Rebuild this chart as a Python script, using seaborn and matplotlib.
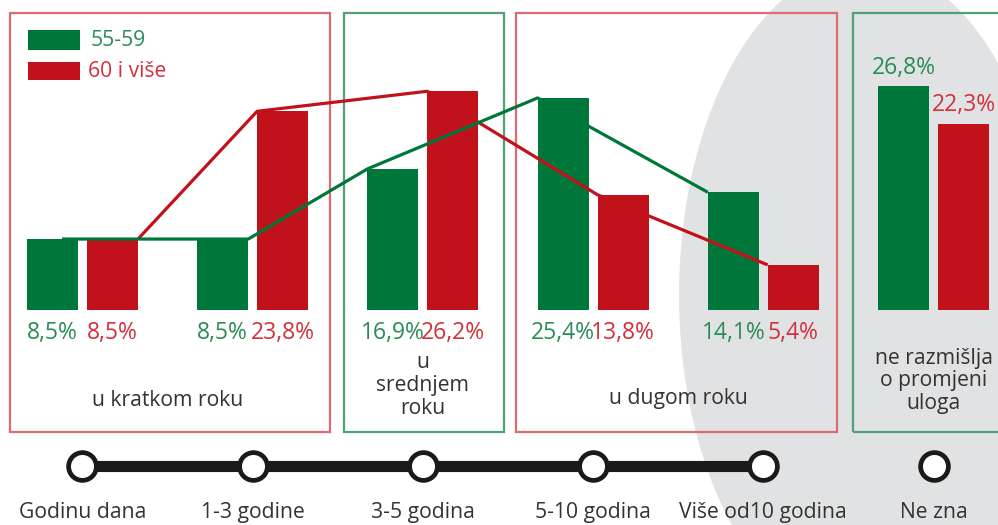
import numpy as np
import pandas as pd
import matplotlib
matplotlib.use("Agg")
import matplotlib.pyplot as plt
from matplotlib.patches import Rectangle, Ellipse
import seaborn as sns

# Podaci
periods = ["Godinu dana", "1-3 godine", "3-5 godina", "5-10 godina", "Više od10 godina", "Ne zna"]
series = ["55-59", "60 i više"]
vals_5559 = [8.5, 8.5, 16.9, 25.4, 14.1, 26.8]
vals_60 = [8.5, 23.8, 26.2, 13.8, 5.4, 22.3]
labels_5559 = ["8,5%", "8,5%", "16,9%", "25,4%", "14,1%", "26,8%"]
labels_60 = ["8,5%", "23,8%", "26,2%", "13,8%", "5,4%", "22,3%"]
box_texts = ["u kratkom roku", "u\nsrednjem\nroku", "u dugom roku", "ne razmišlja\no promjeni\nuloga"]

GREEN = "#00773a"
RED = "#c1121c"
GREEN_TXT = "#2a8c55"
RED_TXT = "#d3303c"
GREY_TXT = "#333333"

sns.set_theme(style="white")
plt.rcParams["font.family"] = ["Open Sans", "DejaVu Sans"]

df = pd.DataFrame({
    "period": periods * 2,
    "serija": [series[0]] * 6 + [series[1]] * 6,
    "vrijednost": vals_5559 + vals_60,
})

fig = plt.figure(figsize=(9.98, 5.25), dpi=100)
ax = fig.add_axes([0, 0, 1, 1])

# sivi elips u pozadini
ax.add_patch(Ellipse((4.60, 1.8), 2.19, 79.0, facecolor="#e1e2e4", edgecolor="none", zorder=0))

sns.barplot(data=df, x="period", y="vrijednost", hue="serija", order=periods,
            palette=[GREEN, RED], width=0.705, gap=0.15, legend=False,
            saturation=1, linewidth=0, edgecolor="none", ax=ax, zorder=2)

off = 0.176
half = 0.15

# linije trenda (prvih pet razdoblja)
x_idx = np.arange(5)
green_dx = np.array([-0.12, -off + half, -off - half, -off - half, -off - half])
red_dx = np.array([off + half, off - half, off - half, off - half, off - half])
ax.plot(x_idx + red_dx, vals_60[:5], color=RED, lw=2.3, zorder=3, solid_capstyle="butt")
ax.plot(x_idx + green_dx, vals_5559[:5], color=GREEN, lw=2.3, zorder=4, solid_capstyle="butt")

# postotci
pct_fs = 16.5
for i in range(6):
    if i < 5:
        ax.text(i - off, -2.75, labels_5559[i], color=GREEN_TXT, fontsize=pct_fs,
                ha="center", va="center", zorder=5)
        ax.text(i + off, -2.75, labels_60[i], color=RED_TXT, fontsize=pct_fs,
                ha="center", va="center", zorder=5)
    else:
        ax.text(i - off, vals_5559[i] + 0.8, labels_5559[i], color=GREEN_TXT, fontsize=pct_fs,
                ha="center", va="bottom", zorder=5)
        ax.text(i + off, vals_60[i] + 0.8, labels_60[i], color=RED_TXT, fontsize=pct_fs,
                ha="center", va="bottom", zorder=5)

# okviri
box_y0, box_y1 = -14.6, 35.55
boxes = [(-0.426, 1.454, "#e06a72"), (1.536, 2.476, "#4ea275"),
         (2.547, 4.433, "#e06a72"), (4.527, 6.2, "#4ea275")]
for x0, x1, c in boxes:
    ax.add_patch(Rectangle((x0, box_y0), x1 - x0, box_y1 - box_y0, fill=False,
                           edgecolor=c, lw=1.6, zorder=1))

txt_fs = 15.2
ax.text(0.5, -10.8, box_texts[0], fontsize=txt_fs, color=GREY_TXT, ha="center", va="center")
ax.text(2.0, -9.0, box_texts[1], fontsize=txt_fs, color=GREY_TXT, ha="center", va="center",
        linespacing=1.12)
ax.text(3.5, -10.55, box_texts[2], fontsize=txt_fs, color=GREY_TXT, ha="center", va="center")
ax.text(5.0, -8.5, box_texts[3], fontsize=txt_fs, color=GREY_TXT, ha="center", va="center",
        linespacing=1.12)

# vremenska os
tl_y = -18.7
ax.plot([0, 4], [tl_y, tl_y], color="#1a1a1a", lw=8, zorder=3, solid_capstyle="butt")
ax.plot(np.arange(6), [tl_y] * 6, linestyle="none", marker="o", markersize=20,
        markerfacecolor="white", markeredgecolor="#1a1a1a", markeredgewidth=3.4, zorder=4)
for i, p in enumerate(periods):
    ax.text(i, -24.2, p, fontsize=txt_fs, color=GREY_TXT, ha="center", va="center")

# legenda
ax.add_patch(Rectangle((-0.32, 31.14), 0.303, 2.4, facecolor=GREEN, edgecolor="none", zorder=2))
ax.add_patch(Rectangle((-0.32, 27.54), 0.303, 2.2, facecolor=RED, edgecolor="none", zorder=2))
ax.text(0.045, 32.3, series[0], fontsize=txt_fs, color=GREEN_TXT, ha="left", va="center")
ax.text(0.035, 28.6, series[1], fontsize=txt_fs, color=RED_TXT, ha="left", va="center")

ax.set_xlim(-0.4847, 5.3789)
ax.set_ylim(-25.75, 37.13)
ax.axis("off")

fig.savefig("out.png", dpi=100)
